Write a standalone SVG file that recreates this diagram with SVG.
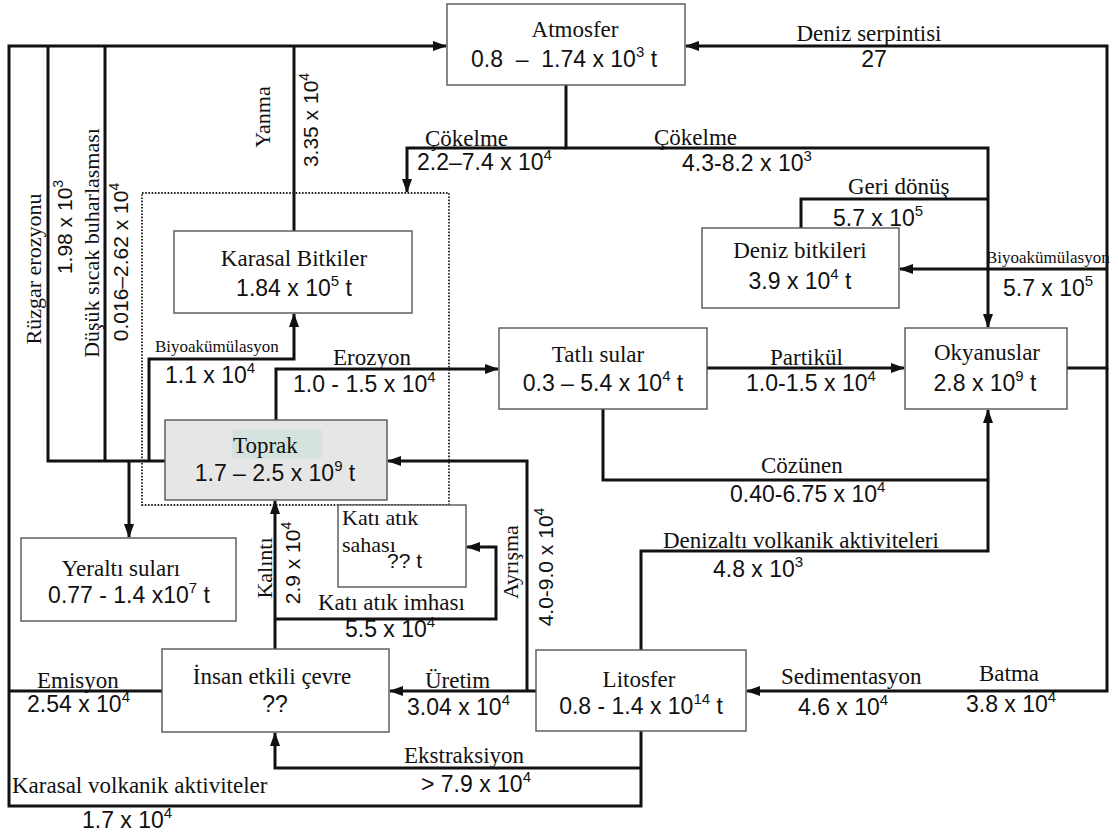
<svg xmlns="http://www.w3.org/2000/svg" width="1118" height="837" viewBox="0 0 1118 837">
<style>
.box{fill:#fff;stroke:#555;stroke-width:1.4}
.c{fill:none;stroke:#111;stroke-width:3;stroke-linejoin:miter}
.l{font-family:"Liberation Serif","Times New Roman",serif;font-size:23px;fill:#111}
.lr{font-family:"Liberation Serif","Times New Roman",serif;font-size:22px;fill:#111}
.ls{font-family:"Liberation Serif","Times New Roman",serif;font-size:17px;fill:#111}
.n{font-family:"Liberation Sans",Arial,sans-serif;font-size:23px;fill:#111}
.nr{font-family:"Liberation Sans",Arial,sans-serif;font-size:21px;fill:#111}
.m{text-anchor:middle}
</style>
<defs>
<marker id="a" markerUnits="userSpaceOnUse" markerWidth="14" markerHeight="10" refX="13" refY="5" orient="auto">
<path d="M0,0 L14,5 L0,10 z" fill="#111"/>
</marker>
</defs>
<rect width="1118" height="837" fill="#fff"/>

<g id="connectors">
<path class="c" d="M641,731 V806 H9 V46 H446" marker-end="url(#a)"/>
<path class="c" d="M162,691 H9"/>
<path class="c" d="M165,461 H48 V46"/>
<path class="c" d="M105,461 V46"/>
<path class="c" d="M294,231 V46"/>
<path class="c" d="M129,461 V537" marker-end="url(#a)"/>
<path class="c" d="M149,461 V359 H294 V314" marker-end="url(#a)"/>
<path class="c" d="M276,420 V369 H498" marker-end="url(#a)"/>
<path class="c" d="M566,148 H407 V192" marker-end="url(#a)"/>
<path class="c" d="M566,85 V148 H988 V327" marker-end="url(#a)"/>
<path class="c" d="M988,199 H801 V228"/>
<path class="c" d="M1067,368 H1107 V46 H686" marker-end="url(#a)"/>
<path class="c" d="M1107,368 V691 H747" marker-end="url(#a)"/>
<path class="c" d="M1107,269 H900" marker-end="url(#a)"/>
<path class="c" d="M707,368 H904" marker-end="url(#a)"/>
<path class="c" d="M603,409 V480 H988"/>
<path class="c" d="M641,650 V551 H988 V410" marker-end="url(#a)"/>
<path class="c" d="M527,691 V461 H388" marker-end="url(#a)"/>
<path class="c" d="M536,691 H390" marker-end="url(#a)"/>
<path class="c" d="M275,649 V501" marker-end="url(#a)"/>
<path class="c" d="M275,619 H496 V547 H467" marker-end="url(#a)"/>
<path class="c" d="M641,768 H275 V733" marker-end="url(#a)"/>
</g>

<g id="dotted-region">
<rect x="142" y="193" width="307" height="312" fill="none" stroke="#222" stroke-width="1.8" stroke-dasharray="1.6 1.6"/>
</g>

<g id="atmosfer">
<rect class="box" x="447" y="4" width="238" height="81"/>
<text class="l m" x="575" y="37">Atmosfer</text>
<text class="n m" x="564" y="67" xml:space="preserve">0.8  –  1.74 x 10<tspan dy="-10" font-size="15">3</tspan><tspan dy="10"> t</tspan></text>
</g>

<g id="karasal-bitkiler">
<rect class="box" x="174" y="231" width="238" height="82"/>
<text class="l m" x="294" y="266">Karasal Bitkiler</text>
<text class="n m" x="294" y="296">1.84 x 10<tspan dy="-10" font-size="15">5</tspan><tspan dy="10"> t</tspan></text>
</g>

<g id="deniz-bitkileri">
<rect class="box" x="702" y="228" width="197" height="80"/>
<text class="l m" x="800" y="258">Deniz bitkileri</text>
<text class="n m" x="800" y="289">3.9 x 10<tspan dy="-10" font-size="15">4</tspan><tspan dy="10"> t</tspan></text>
</g>

<g id="tatli-sular">
<rect class="box" x="499" y="328" width="208" height="81"/>
<text class="l m" x="598" y="362">Tatlı sular</text>
<text class="n m" x="603" y="391">0.3 – 5.4 x 10<tspan dy="-10" font-size="15">4</tspan><tspan dy="10"> t</tspan></text>
</g>

<g id="okyanuslar">
<rect class="box" x="905" y="328" width="162" height="81"/>
<text class="l m" x="987" y="360">Okyanuslar</text>
<text class="n m" x="985" y="391">2.8 x 10<tspan dy="-10" font-size="15">9</tspan><tspan dy="10"> t</tspan></text>
</g>

<g id="toprak">
<rect x="165" y="420" width="222" height="80" fill="#e6e6e6" stroke="#555" stroke-width="1.4"/>
<rect x="232" y="430" width="90" height="28" fill="#d5e2de"/>
<text class="l" x="233" y="453">Toprak</text>
<text class="n m" x="275" y="481">1.7 – 2.5 x 10<tspan dy="-10" font-size="15">9</tspan><tspan dy="10"> t</tspan></text>
</g>

<g id="yeralti-sulari">
<rect class="box" x="21" y="538" width="215" height="83"/>
<text class="l m" x="121" y="576">Yeraltı suları</text>
<text class="n m" x="129" y="603">0.77 - 1.4 x10<tspan dy="-10" font-size="15">7</tspan><tspan dy="10"> t</tspan></text>
</g>

<g id="kati-atik-sahasi">
<rect class="box" x="338" y="505" width="128" height="82"/>
<text class="lr" x="342" y="525">Katı atık</text>
<text class="lr" x="342" y="552">sahası</text>
<text class="nr" x="387" y="568">?? t</text>
</g>

<g id="insan-etkili-cevre">
<rect class="box" x="162" y="649" width="227" height="83"/>
<text class="l m" x="272" y="684">İnsan etkili çevre</text>
<text class="n m" x="275" y="712">??</text>
</g>

<g id="litosfer">
<rect class="box" x="536" y="650" width="210" height="81"/>
<text class="l m" x="639" y="687">Litosfer</text>
<text class="n m" x="641" y="714">0.8 - 1.4 x 10<tspan dy="-10" font-size="15">14</tspan><tspan dy="10"> t</tspan></text>
</g>

<g id="labels">
<text class="lr m" transform="translate(41,269) rotate(-90)">Rüzgar erozyonu</text>
<text class="nr m" transform="translate(72,227) rotate(-90)">1.98 x 10<tspan dy="-9" font-size="14">3</tspan></text>
<text class="lr m" transform="translate(99,243) rotate(-90)">Düşük sıcak buharlasması</text>
<text class="nr m" transform="translate(128,262) rotate(-90)">0.016–2.62 x 10<tspan dy="-9" font-size="14">4</tspan></text>
<text class="lr m" transform="translate(270,117) rotate(-90)">Yanma</text>
<text class="nr m" transform="translate(318,120) rotate(-90)">3.35 x 10<tspan dy="-9" font-size="14">4</tspan></text>
<text class="lr m" transform="translate(272,568) rotate(-90)">Kalıntı</text>
<text class="nr m" transform="translate(300,563) rotate(-90)">2.9 x 10<tspan dy="-9" font-size="14">4</tspan></text>
<text class="lr m" transform="translate(518,562) rotate(-90)">Ayrışma</text>
<text class="nr m" transform="translate(553,567) rotate(-90)">4.0-9.0 x 10<tspan dy="-9" font-size="14">4</tspan></text>

<text class="l" x="425" y="146">Çökelme</text>
<text class="n" x="417" y="170">2.2–7.4 x 10<tspan dy="-10" font-size="15">4</tspan></text>
<text class="l" x="654" y="145">Çökelme</text>
<text class="n" x="682" y="171">4.3-8.2 x 10<tspan dy="-10" font-size="15">3</tspan></text>
<text class="l m" x="869" y="41">Deniz serpintisi</text>
<text class="n m" x="874" y="67">27</text>
<text class="l" x="848" y="194">Geri dönüş</text>
<text class="n" x="833" y="226">5.7 x 10<tspan dy="-10" font-size="15">5</tspan></text>
<text class="ls" x="986" y="263">Biyoakümülasyon</text>
<text class="n" x="1003" y="296">5.7 x 10<tspan dy="-10" font-size="15">5</tspan></text>
<text class="ls" x="155" y="352">Biyoakümülasyon</text>
<text class="n" x="165" y="383">1.1 x 10<tspan dy="-10" font-size="15">4</tspan></text>
<text class="l" x="333" y="365">Erozyon</text>
<text class="n" x="293" y="392">1.0 - 1.5 x 10<tspan dy="-10" font-size="15">4</tspan></text>
<text class="l" x="770" y="365">Partikül</text>
<text class="n" x="746" y="391">1.0-1.5 x 10<tspan dy="-10" font-size="15">4</tspan></text>
<text class="l" x="761" y="473">Cözünen</text>
<text class="n" x="730" y="502">0.40-6.75 x 10<tspan dy="-10" font-size="15">4</tspan></text>
<text class="l" x="663" y="548">Denizaltı volkanik aktiviteleri</text>
<text class="n" x="713" y="577">4.8 x 10<tspan dy="-10" font-size="15">3</tspan></text>
<text class="l" x="318" y="610">Katı atık imhası</text>
<text class="n" x="345" y="637">5.5 x 10<tspan dy="-10" font-size="15">4</tspan></text>
<text class="l" x="37" y="688">Emisyon</text>
<text class="n" x="27" y="712">2.54 x 10<tspan dy="-10" font-size="15">4</tspan></text>
<text class="l" x="425" y="688">Üretim</text>
<text class="n" x="407" y="715">3.04 x 10<tspan dy="-10" font-size="15">4</tspan></text>
<text class="l" x="781" y="684">Sedimentasyon</text>
<text class="n" x="798" y="715">4.6 x 10<tspan dy="-10" font-size="15">4</tspan></text>
<text class="l" x="979" y="681">Batma</text>
<text class="n" x="966" y="712">3.8 x 10<tspan dy="-10" font-size="15">4</tspan></text>
<text class="l" x="404" y="763">Ekstraksiyon</text>
<text class="n" x="421" y="792">&gt; 7.9 x 10<tspan dy="-10" font-size="15">4</tspan></text>
<text class="l" x="12" y="793">Karasal volkanik aktiviteler</text>
<text class="n" x="82" y="828">1.7 x 10<tspan dy="-10" font-size="15">4</tspan></text>
</g>
</svg>
